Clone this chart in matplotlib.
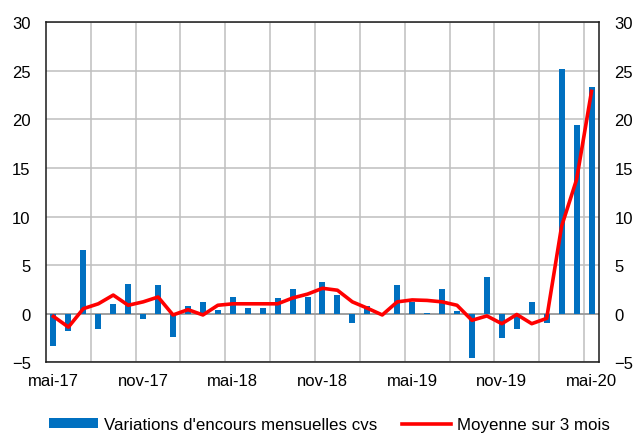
import numpy as np
import matplotlib.pyplot as plt
from matplotlib.patches import Patch
from matplotlib.lines import Line2D

plt.rcParams['font.family'] = ['Liberation Sans', 'DejaVu Sans']

# Monthly data, mai-17 .. mai-20 (37 months)
tick_labels = ['mai-17', 'nov-17', 'mai-18', 'nov-18', 'mai-19', 'nov-19', 'mai-20']
variations = [-3.3, -1.8, 6.5, -1.6, 1.0, 3.0, -0.6, 2.9, -2.4, 0.8, 1.2, 0.4,
              1.75, 0.6, 0.6, 1.55, 2.5, 1.75, 3.2, 1.9, -1.0, 0.75, 0.05, 2.9,
              1.2, 0.05, 2.5, 0.25, -4.6, 3.8, -2.5, -1.6, 1.15, -1.0, 25.2, 19.4, 23.3]
moyenne_3m = [-0.3, -1.4, 0.5, 1.0, 1.9, 0.85, 1.2, 1.7, -0.15, 0.4, -0.15, 0.85,
              1.0, 1.0, 1.0, 1.0, 1.6, 2.0, 2.6, 2.4, 1.2, 0.55, -0.15, 1.2,
              1.4, 1.35, 1.2, 0.85, -0.7, -0.25, -1.05, -0.1, -1.05, -0.5, 9.0, 13.8, 22.9]

bar_color = '#0070C0'
line_color = '#FF0000'
grid_color = '#BFBFBF'

x = np.arange(len(variations))

fig = plt.figure(figsize=(6.36, 4.35), dpi=100)
ax = fig.add_axes([0.0723, 0.1655, 0.8695, 0.7805])

ax.bar(x, variations, width=0.4, color=bar_color, zorder=2)
ax.plot(x, moyenne_3m, color=line_color, linewidth=2.6, zorder=3)
ax.axhline(0, color='#999999', linewidth=1.2, zorder=1)

ax.set_xlim(-0.5, len(variations) - 0.5)
ax.set_ylim(-5, 30)
ax.set_yticks(np.arange(-5, 31, 5))
ax.set_xticks(x[::6])
ax.set_xticklabels(tick_labels)
ax.set_xticks(np.arange(2.5, len(variations) - 0.5, 3), minor=True)

ax.grid(True, axis='y', color=grid_color, linewidth=1.1, zorder=0)
ax.grid(True, axis='x', which='minor', color=grid_color, linewidth=1.1, zorder=0)
ax.set_axisbelow(True)

ax.tick_params(axis='y', length=0, labelsize=12, pad=11, labelright=True)
ax.tick_params(axis='x', which='both', length=0, labelsize=12, pad=8)

for s in ax.spines.values():
    s.set_color('#1a1a1a')
    s.set_linewidth(1.1)

handles = [Patch(facecolor=bar_color, edgecolor='none'),
           Line2D([0], [0], color=line_color, linewidth=2.6)]
labels = ["Variations d'encours mensuelles cvs", 'Moyenne sur 3 mois']
fig.legend(handles, labels, loc='center', bbox_to_anchor=(0.518, 0.022), ncol=2,
           frameon=False, fontsize=12.2, handlelength=2.9, handleheight=0.5,
           handletextpad=0.35, columnspacing=1.5, borderpad=0.2)

fig.savefig('out.png', dpi=100)
